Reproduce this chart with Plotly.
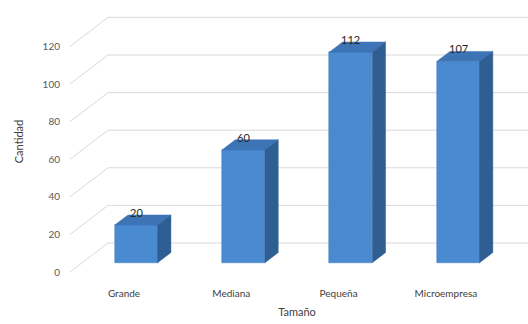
import plotly.graph_objects as go

categories = ["Grande", "Mediana", "Pequeña", "Microempresa"]
values = [20, 60, 112, 107]
y_ticks = [0, 20, 40, 60, 80, 100, 120]
x_title = "Tamaño"
y_title = "Cantidad"

# projection geometry (category units, value units)
DX = 38 / 107.3     # depth shift in x for full depth
DY = 29 / 1.88      # depth shift in y for full depth
D_FRONT = 0.32
D_BACK = 0.67
BAR_W = 0.40
WALL_X = -0.503
X_RANGE = [-0.5405, 3.765]
Y_RANGE = [-5.85, 144.68]

FRONT = "#4A8AD0"
TOP = "#3D74B6"
SIDE = "#2F5E93"
GRID = "#D9D9D9"
FONT = "Lato"

xs = list(range(len(categories)))
fig = go.Figure()

# front faces
fig.add_trace(go.Bar(
    x=[i + D_FRONT * DX for i in xs],
    y=values,
    base=[D_FRONT * DY] * len(values),
    width=BAR_W,
    marker=dict(color=FRONT, line=dict(color="#3F7BBE", width=0.5)),
    hoverinfo="skip",
    showlegend=False,
))

shapes = []
# grid lines: left wall diagonal + back wall horizontal
for v in y_ticks:
    x0, y0 = WALL_X, v
    x1, y1 = WALL_X + DX, v + DY
    shapes.append(dict(type="line", xref="x", yref="y", x0=x0, y0=y0, x1=x1, y1=y1,
                       line=dict(color=GRID, width=1), layer="below"))
    shapes.append(dict(type="line", xref="x", yref="y", x0=x1, y0=y1, x1=X_RANGE[1] + 1, y1=y1,
                       line=dict(color=GRID, width=1), layer="below"))

dd = (D_BACK - D_FRONT)
for i, v in zip(xs, values):
    cx = i + D_FRONT * DX
    xl, xr = cx - BAR_W / 2, cx + BAR_W / 2
    yb, yt = D_FRONT * DY, v + D_FRONT * DY
    ox, oy = dd * DX, dd * DY
    top = f"M {xl},{yt} L {xr},{yt} L {xr+ox},{yt+oy} L {xl+ox},{yt+oy} Z"
    side = f"M {xr},{yb} L {xr+ox},{yb+oy} L {xr+ox},{yt+oy} L {xr},{yt} Z"
    shapes.append(dict(type="path", xref="x", yref="y", path=top, fillcolor=TOP,
                       line=dict(color=TOP, width=0.5), layer="above"))
    shapes.append(dict(type="path", xref="x", yref="y", path=side, fillcolor=SIDE,
                       line=dict(color=SIDE, width=0.5), layer="above"))

annotations = []
for i, v in zip(xs, values):
    annotations.append(dict(x=i + D_FRONT * DX, y=v + D_BACK * DY, xref="x", yref="y",
                            text=str(v), showarrow=False, yanchor="bottom", yshift=-6,
                            font=dict(family=FONT, size=11, color="#262626")))

fig.update_layout(
    width=528, height=324,
    margin=dict(l=66, r=0, t=0, b=41),
    paper_bgcolor="white", plot_bgcolor="white",
    shapes=shapes,
    annotations=annotations,
    font=dict(family=FONT, color="#595959"),
    xaxis=dict(range=X_RANGE, tickvals=xs, ticktext=categories, showgrid=False,
               zeroline=False, showline=False, ticks="", ticklabelstandoff=3,
               tickfont=dict(size=10, color="#404040"),
               title=dict(text=x_title, font=dict(size=11, color="#404040"), standoff=10)),
    yaxis=dict(range=Y_RANGE, tickvals=y_ticks, showgrid=False, zeroline=False,
               showline=False, ticks="", ticklabelstandoff=5,
               tickfont=dict(size=10, color="#595959"),
               title=dict(text=y_title, font=dict(size=11, color="#404040"), standoff=16)),
    bargap=0,
)

fig.write_html("out.html")
